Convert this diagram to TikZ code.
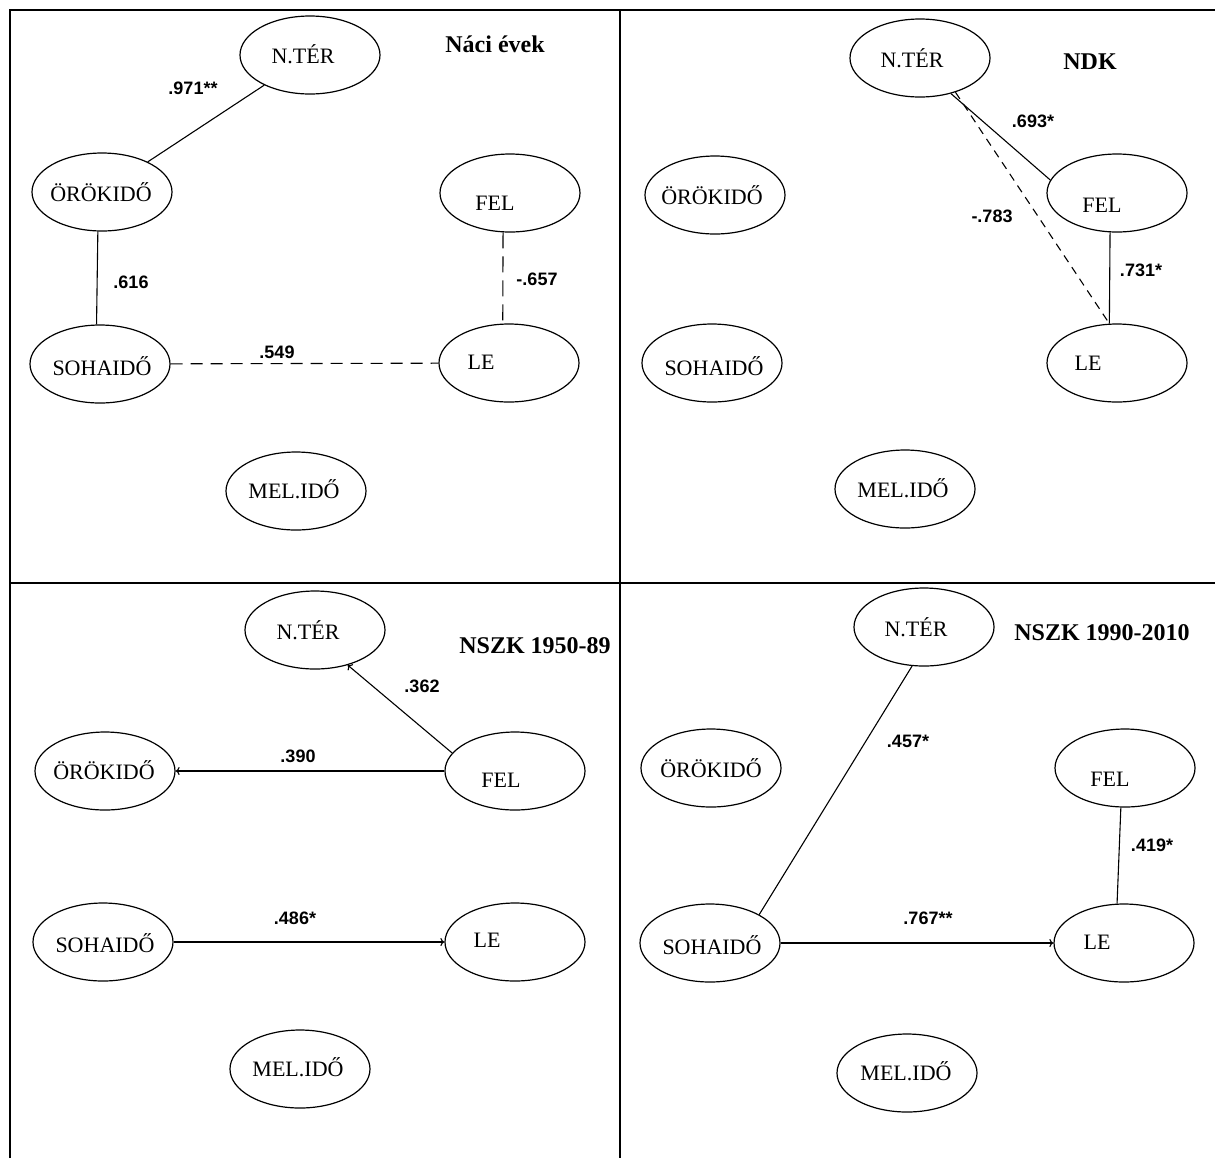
\documentclass[tikz,border=0pt]{standalone}
\usepackage{fontspec}
\setmainfont{Liberation Serif}
\newfontfamily\numfont{Liberation Sans}
\usetikzlibrary{shapes.geometric,arrows.meta,calc}
\tikzset{
 ell/.style={draw, ellipse, minimum width=70pt, minimum height=39pt, inner sep=0pt, line width=0.6pt},
 lbl/.style={inner sep=0pt, font=\fontsize{11}{13}\selectfont, text height=7.3pt, text depth=0pt},
 num/.style={inner sep=0pt, font=\numfont\bfseries\fontsize{9}{11}\selectfont, text height=6.4pt, text depth=0pt},
 ttl/.style={inner sep=0pt, font=\bfseries\fontsize{12}{14}\selectfont, text height=8pt, text depth=0pt},
 conn/.style={line width=0.55pt},
 dsh/.style={conn, dash pattern=on 6pt off 4pt},
 vdsh/.style={conn, dash pattern=on 8pt off 4pt},
 fdsh/.style={conn, dash pattern=on 4pt off 3pt},
 frame/.style={line width=1pt},
 tip/.style={-{To[length=2pt,width=4pt]}}
}
\newcommand\enode[4]{\node[ell] (#1) at (#2) {}; \node[lbl] (#1-t) at (#3) {#4};}
\begin{document}
\begin{tikzpicture}[x=0.5pt,y=-0.5pt]
\path[use as bounding box] (0,0) rectangle (1215,1158);
% frame
\draw[frame] (10,1158) -- (10,10) -- (1215,10);
\draw[frame] (620,10) -- (620,1158);
\draw[frame] (10,583) -- (1215,583);

% ---------- Panel 1: Náci évek
\enode{a1}{310,55}{303,56}{N.TÉR}
\enode{b1}{102,192}{101,194}{ÖRÖKIDŐ}
\enode{c1}{510,193}{495,203}{FEL}
\enode{d1}{100,364}{102,368}{SOHAIDŐ}
\enode{e1}{509,363}{481,362}{LE}
\enode{f1}{296,491}{294,491}{MEL.IDŐ}
\node[ttl] (t1) at (495,44) {Náci évek};
\draw[conn] (a1) -- (b1);
\draw[conn] (b1.-96) -- (d1.95);
\draw[vdsh] (c1.-100) -- (e1.99);
\draw[dsh] (d1) -- (e1);
\node[num] (n1a) at (193,88) {.971**};
\node[num] (n1b) at (131,282) {.616};
\node[num] (n1c) at (537,279) {-.657};
\node[num] (n1d) at (277,352) {.549};

% ---------- Panel 2: NDK
\enode{a2}{920,58}{912,60}{N.TÉR}
\enode{b2}{715,195}{712,197}{ÖRÖKIDŐ}
\enode{c2}{1117,193}{1102,205}{FEL}
\enode{d2}{712,363}{714,368}{SOHAIDŐ}
\enode{e2}{1117,363}{1088,363}{LE}
\enode{f2}{905,489}{903,490}{MEL.IDŐ}
\node[ttl] (t2) at (1090,61) {NDK};
\draw[conn] (a2.-49) -- (c2.169);
\draw[fdsh] (a2.-44) -- (e2.101);
\draw[conn] (c2.-100) -- (e2.101);
\node[num] (n2a) at (1033,121) {.693*};
\node[num] (n2b) at (992,216) {-.783};
\node[num] (n2c) at (1141,270) {.731*};

% ---------- Panel 3: NSZK 1950-89
\enode{a3}{315,630}{308,632}{N.TÉR}
\enode{b3}{105,771}{104,772}{ÖRÖKIDŐ}
\enode{c3}{515,771}{501,780}{FEL}
\enode{d3}{103,942}{105,945}{SOHAIDŐ}
\enode{e3}{515,942}{487,940}{LE}
\enode{f3}{300,1069}{298,1069}{MEL.IDŐ}
\node[ttl] (t3) at (535,645) {NSZK 1950-89};
\draw[conn,tip] (c3.164) -- (a3.-47);
\draw[conn,tip] (c3) -- (b3);
\draw[conn,tip] (d3) -- (e3);
\node[num] (n3a) at (422,686) {.362};
\node[num] (n3b) at (298,756) {.390};
\node[num] (n3c) at (295,918) {.486*};

% ---------- Panel 4: NSZK 1990-2010
\enode{a4}{924,627}{916,629}{N.TÉR}
\enode{b4}{711,768}{711,770}{ÖRÖKIDŐ}
\enode{c4}{1125,768}{1110,779}{FEL}
\enode{d4}{710,943}{712,947}{SOHAIDŐ}
\enode{e4}{1124,943}{1097,942}{LE}
\enode{f4}{907,1073}{906,1073}{MEL.IDŐ}
\node[ttl] (t4) at (1102,632) {NSZK 1990-2010};
\draw[conn] (a4.-107) -- (d4.30);
\draw[conn] (c4.-96) -- (e4.100);
\draw[conn,tip] (d4) -- (e4);
\node[num] (n4a) at (908,741) {.457*};
\node[num] (n4b) at (1152,845) {.419*};
\node[num] (n4c) at (928,918) {.767**};
\end{tikzpicture}
\end{document}
